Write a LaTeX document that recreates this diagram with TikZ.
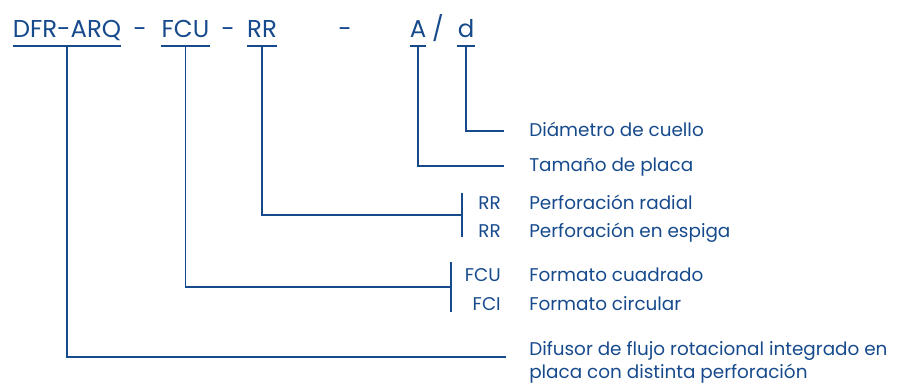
\documentclass[tikz,border=0pt]{standalone}
\usepackage{fontspec}
\setmainfont{Poppins}
\usetikzlibrary{positioning,calc}
\definecolor{codeblue}{RGB}{22,74,140}
\tikzset{
  codetxt/.style={anchor=base, inner sep=0pt, text=codeblue,
                  font=\fontsize{18.3}{22}\selectfont},
  desctxt/.style={anchor=base west, inner sep=0pt, text=codeblue, align=left,
                  font=\fontsize{13.8}{17.25}\selectfont},
  keytxt/.style={anchor=base east, inner sep=0pt, text=codeblue,
                 font=\fontsize{13.8}{17.25}\selectfont},
  lnk/.style={draw=codeblue, line width=0.85pt},
}
\begin{document}
\begin{tikzpicture}[x=0.75pt, y=-0.75pt]
  \useasboundingbox (0,0) rectangle (900,383);
  % code string
  \node[codetxt] (tDfr) at (67,37) {DFR-ARQ};
  \node[codetxt] (s1) at (140,37) {-};
  \node[codetxt] (tFcu) at (185.5,37) {FCU};
  \node[codetxt] (s2) at (228,37) {-};
  \node[codetxt] (tRr) at (262,37) {RR};
  \node[codetxt] (s3) at (345,37) {-};
  \node[codetxt] (tA) at (418,37) {A};
  \node[codetxt] (sl) at (438,37) {/};
  \node[codetxt] (tD) at (466,37) {d};
  \coordinate (ul) at (0,46);
  \foreach \t in {tDfr,tFcu,tRr,tA,tD}
    \draw[lnk] (\t.west |- ul) -- (\t.east |- ul);
  % descriptions
  \node[desctxt] (dDia) at (529,136) {Diámetro de cuello};
  \node[desctxt] (dTam) at (529,171.5) {Tamaño de placa};
  \node[desctxt] (dRad) at (529,209) {Perforación radial};
  \node[desctxt] (dEsp) at (529,237) {Perforación en espiga};
  \node[desctxt] (dCua) at (529,281.5) {Formato cuadrado};
  \node[desctxt] (dCir) at (529,310.5) {Formato circular};
  \node[desctxt] (dDif) at (529,378) {Difusor de flujo rotacional integrado en\\placa con distinta perforación};
  \node[keytxt] (kRad) at (501,209) {RR};
  \node[keytxt] (kEsp) at (501,237) {RR};
  \node[keytxt] (kCua) at (501,281.5) {FCU};
  \node[keytxt] (kCir) at (501,310.5) {FCI};
  % leader ends and bars
  \coordinate (eDia) at (504,131);
  \coordinate (eTam) at (504,166);
  \coordinate (bRrT) at (462,193);
  \coordinate (bRrB) at (462,237);
  \coordinate (bFcT) at (451,262);
  \coordinate (bFcB) at (451,312);
  \coordinate (eDif) at (506,357);
  \draw[lnk] (bRrT) -- (bRrB);
  \draw[lnk] (bFcT) -- (bFcB);
  % leaders
  \draw[lnk] (tD.base |- ul) |- (eDia);
  \draw[lnk] (tA.base |- ul) |- (eTam);
  \draw[lnk] (tRr.base |- ul) |- ($(bRrT)!0.5!(bRrB)$);
  \draw[lnk] (tFcu.base |- ul) |- ($(bFcT)!0.5!(bFcB)$);
  \draw[lnk] (tDfr.base |- ul) |- (eDif);
\end{tikzpicture}
\end{document}
